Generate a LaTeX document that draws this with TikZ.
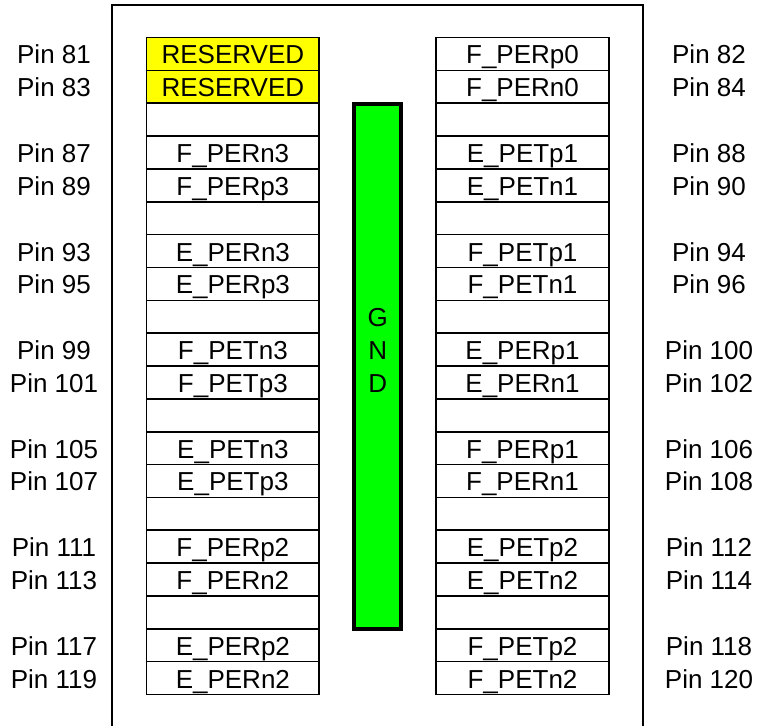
\documentclass[tikz,border=0pt]{standalone}
\usepackage{fontspec}
\setmainfont{Liberation Sans}
\definecolor{resyellow}{RGB}{255,255,0}
\definecolor{gndgreen}{RGB}{0,255,0}
\begin{document}
\begin{tikzpicture}[x=1pt,y=-1pt,
  cell/.style={draw, line width=1.6pt, minimum width=172.5pt, minimum height=32.85pt,
    inner sep=0pt, outer sep=0pt, text height=22pt, text depth=2pt,
    font=\fontsize{26}{26}\selectfont},
  pinlabel/.style={inner sep=0pt, text height=22pt, text depth=2pt,
    font=\fontsize{26}{26}\selectfont},
  gndbar/.style={draw, line width=4pt, fill=gndgreen, minimum width=47.3pt,
    minimum height=524.4pt, inner sep=0pt, outer sep=0pt},
  frame/.style={line width=1.7pt}]
\useasboundingbox (0,0) rectangle (759,726);
\fill[white] (0,0) rectangle (759,726);
% outer frame (open at the bottom)
\coordinate (fbl) at (111.7,726);
\coordinate (ftl) at (111.7,4.7);
\coordinate (ftr) at (643.3,4.7);
\coordinate (fbr) at (643.3,726);
\draw[frame] (fbl) -- (ftl) -- (ftr) -- (fbr);
% left column
\foreach \i/\t/\p/\f in {0/RESERVED/81/resyellow, 1/RESERVED/83/resyellow, 2/{}/{}/white,
  3/F\_PERn3/87/white, 4/F\_PERp3/89/white, 5/{}/{}/white,
  6/E\_PERn3/93/white, 7/E\_PERp3/95/white, 8/{}/{}/white,
  9/F\_PETn3/99/white, 10/F\_PETp3/101/white, 11/{}/{}/white,
  12/E\_PETn3/105/white, 13/E\_PETp3/107/white, 14/{}/{}/white,
  15/F\_PERp2/111/white, 16/F\_PERn2/113/white, 17/{}/{}/white,
  18/E\_PERp2/117/white, 19/E\_PERn2/119/white}{
  \pgfmathsetmacro{\yc}{37.5+32.85*(\i+0.5)}
  \node[cell, fill=\f] (L\i) at (232.85,\yc) {\t};
  \node[pinlabel] (PL\i) at (54,\yc) {\ifx\p\empty\else Pin \p\fi};
}
% right column
\foreach \i/\t/\p in {0/F\_PERp0/82, 1/F\_PERn0/84, 2/{}/{},
  3/E\_PETp1/88, 4/E\_PETn1/90, 5/{}/{},
  6/F\_PETp1/94, 7/F\_PETn1/96, 8/{}/{},
  9/E\_PERp1/100, 10/E\_PERn1/102, 11/{}/{},
  12/F\_PERp1/106, 13/F\_PERn1/108, 14/{}/{},
  15/E\_PETp2/112, 16/E\_PETn2/114, 17/{}/{},
  18/F\_PETp2/118, 19/F\_PETn2/120}{
  \pgfmathsetmacro{\yc}{37.5+32.85*(\i+0.5)}
  \node[cell, fill=white] (R\i) at (522.5,\yc) {\t};
  \node[pinlabel] (PR\i) at (709,\yc) {\ifx\p\empty\else Pin \p\fi};
}
% GND bar
\node[gndbar] (gnd) at (377.8,366.5) {};
\node[pinlabel] (gndG) at (377.8,316.7) {G};
\node[pinlabel] (gndN) at (377.8,349.6) {N};
\node[pinlabel] (gndD) at (377.8,382.4) {D};
\end{tikzpicture}
\end{document}
